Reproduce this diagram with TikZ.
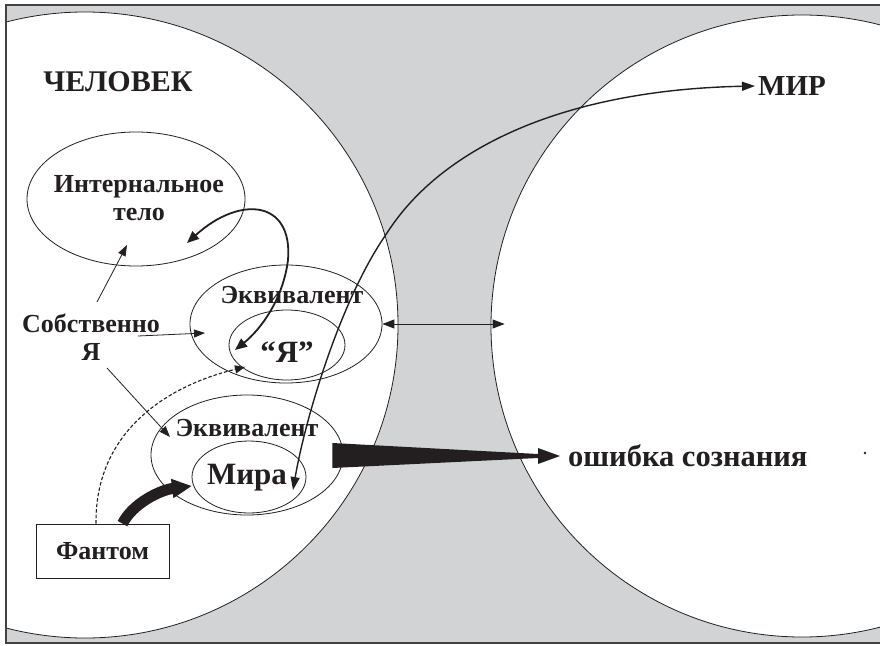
\documentclass[tikz,border=0pt]{standalone}
\usepackage{fontspec}
\setmainfont{Liberation Serif}
\usetikzlibrary{calc}
\usetikzlibrary{arrows.meta}
\usetikzlibrary{shapes.geometric}
\definecolor{bggray}{RGB}{209,211,212}
\definecolor{ink}{RGB}{35,31,32}

\begin{document}
\begin{tikzpicture}[x=1pt,y=-1pt,inner sep=0pt,
  oval/.style={draw=ink,ellipse,line width=0.8pt},
  lbl/.style={font=\bfseries\fontsize{26}{28}\selectfont,text=ink,align=center},
  big/.style={font=\bfseries\fontsize{31}{34}\selectfont,text=ink},
  arr/.style={draw=ink,line width=0.8pt,-{Triangle[length=11pt,width=8pt]}},
  curly/.style={draw=ink,line width=1.8pt,{Triangle[length=12pt,width=10pt]}-{Triangle[length=12pt,width=10pt]}}]
\useasboundingbox (0,0) rectangle (880,645);
\fill[bggray] (6,5) rectangle (880,643);
\begin{scope}
\clip (6,5) rectangle (880,643);
\node[circle,draw=ink,fill=white,minimum size=626pt,line width=0.8pt] (chelcirc) at (85,325) {};
\node[circle,draw=ink,fill=white,minimum size=622pt,line width=0.8pt] (mircirc) at (802,326) {};
\end{scope}
\draw[ink!85,line width=1.5pt] (880,5) -- (6,5) -- (6,643) -- (880,643);

\node[lbl,font=\bfseries\fontsize{30}{34}\selectfont] (chel) at (118,82) {ЧЕЛОВЕК};
\node[lbl,font=\bfseries\fontsize{29}{34}\selectfont,anchor=west] (mir) at (758,86) {МИР};

\node[oval,minimum width=218pt,minimum height=134pt] (itelo) at (136,199) {};
\node[lbl] (itelot) at (139,198) {Интернальное\\тело};

\node[oval,minimum width=192pt,minimum height=118pt] (ekvya) at (286,324) {};
\node[lbl] (ekvyat) at (292,295) {Эквивалент};
\node[oval,minimum width=116pt,minimum height=70pt] (ya) at (287,345) {};
\node[big] (yat) at (287,352) {“Я”};

\node[oval,minimum width=192pt,minimum height=120pt] (ekvmir) at (247,455) {};
\node[lbl] (ekvmirt) at (247,428) {Эквивалент};
\node[oval,minimum width=114pt,minimum height=72pt] (mira) at (249,477) {};
\node[big] (mirat) at (247,478) {Мира};

\node[lbl] (sobst) at (91,337) {Собственно\\Я};
\node[lbl,draw=ink,line width=0.8pt,minimum width=133pt,minimum height=54pt] (fantom) at (102.5,551) {Фантом};
\node[lbl,font=\bfseries\fontsize{30.5}{34}\selectfont,anchor=west] (oshibka) at (568,456) {ошибка сознания};
\fill[ink] (865,453) circle (1.3);

\draw[arr] ($(sobst)+(6,-35)$) -- ($(itelo)+(-9,46)$);
\draw[arr] ($(sobst)+(47,-1)$) -- ($(ekvya)+(-81,9)$);
\draw[arr] ($(sobst)+(16,31)$) -- ($(ekvmir)+(-77,-18)$);
\draw[curly] ($(itelo)+(51,44)$) .. controls +(53,-48) and +(5,-60) .. (288,260)
  .. controls +(-5,40) and +(25,-20) .. ($(ya)+(-52,5)$);
\draw[draw=ink,line width=1.4pt,{Triangle[length=13pt,width=9pt]}-{Triangle[length=13pt,width=9pt]}]
  ($(mira)+(44,13)$) .. controls (305,420) and (340,300) .. (387,233)
  .. controls (440,150) and (560,90) .. ([xshift=-3pt]mir.west);
\draw[draw=ink,line width=1pt,{Triangle[length=12pt,width=9pt]}-{Triangle[length=12pt,width=9pt]}]
  (ekvya.east) -- ($(ekvya.east -| mircirc.west)+(14,0)$);
\fill[ink] ($(ekvmir.east)+(-11,-12)$) -- ($(oshibka.west)+(-30,-2)$) -- ($(oshibka.west)+(-30,-8)$)
  -- ($(oshibka.west)+(-8,0)$) -- ($(oshibka.west)+(-30,8)$) -- ($(oshibka.west)+(-30,2)$)
  -- ($(ekvmir.east)+(-11,13)$) -- cycle;
\draw[draw=ink,line width=1.1pt,dash pattern=on 3.5pt off 2pt,-{Triangle[length=10pt,width=8pt]}]
  ($(fantom.north)+(-6.5,0)$) .. controls +(-1,-94) and +(-75,18) .. ($(ya)+(-42,22)$);
\draw[draw=ink,line width=11pt,-{Triangle[length=20pt,width=18pt]}]
  ($(fantom.north)+(20,0)$) .. controls +(10,-20) and +(-32,4) .. ($(mira)+(-57,9)$);
\end{tikzpicture}
\end{document}
